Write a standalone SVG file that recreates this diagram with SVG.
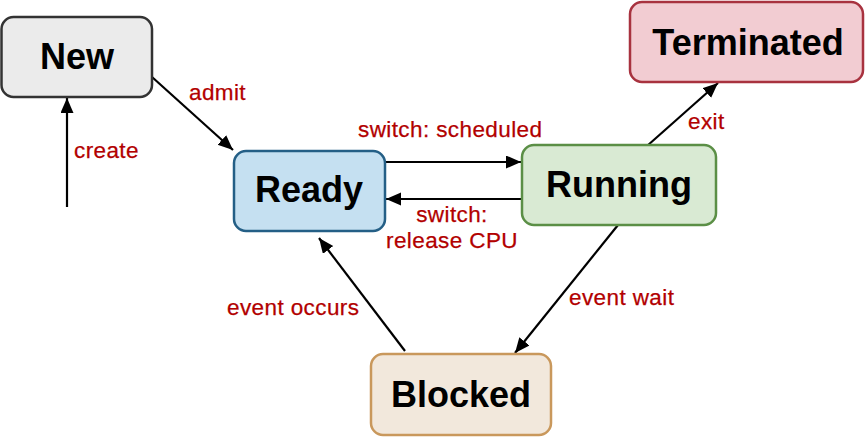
<svg xmlns="http://www.w3.org/2000/svg" width="865" height="437" viewBox="0 0 865 437">
<style>
.box{stroke-width:2.5}
.nt{font-family:"Liberation Sans",Arial,sans-serif;font-weight:bold;font-size:36px;fill:#000;text-anchor:middle}
.lb{font-family:"Liberation Sans",Arial,sans-serif;font-size:22.5px;letter-spacing:0.4px;fill:#b20000;stroke:#b20000;stroke-width:0.25}
.cn{stroke:#000;stroke-width:2.2;fill:none;marker-end:url(#ah)}
</style>
<defs>
<marker id="ah" markerUnits="userSpaceOnUse" markerWidth="17" markerHeight="14" refX="15" refY="6.5" orient="auto">
<path d="M0,0 L15,6.5 L0,13 Z" fill="#000"/>
</marker>
</defs>
<rect width="865" height="437" fill="#fff"/>
<g id="connectors">
<line class="cn" x1="67" y1="207" x2="67" y2="98"/>
<line class="cn" x1="152" y1="77" x2="233" y2="150"/>
<line class="cn" x1="385" y1="162" x2="521" y2="162"/>
<line class="cn" x1="522" y1="199" x2="386" y2="199"/>
<line class="cn" x1="647" y1="146" x2="718" y2="83"/>
<line class="cn" x1="618" y1="225" x2="515" y2="353"/>
<line class="cn" x1="405" y1="351" x2="319" y2="238"/>
</g>
<g id="labels">
<text class="lb" x="189" y="100">admit</text>
<text class="lb" x="74" y="158">create</text>
<text class="lb" x="358" y="137">switch: scheduled</text>
<text class="lb" x="452" y="222" text-anchor="middle">switch:</text>
<text class="lb" x="452" y="248" text-anchor="middle">release CPU</text>
<text class="lb" x="688" y="129">exit</text>
<text class="lb" x="569" y="305">event wait</text>
<text class="lb" x="227" y="315">event occurs</text>
</g>
<g id="new">
<rect class="box" x="1.5" y="17" width="150.5" height="80" rx="12" fill="#ebebeb" stroke="#333"/>
<text class="nt" x="77" y="69">New</text>
</g>
<g id="ready">
<rect class="box" x="234" y="151" width="151" height="80" rx="12" fill="#c5e0f1" stroke="#245f86"/>
<text class="nt" x="309" y="202">Ready</text>
</g>
<g id="running">
<rect class="box" x="522" y="145" width="194" height="80" rx="12" fill="#d9ead3" stroke="#5b8f46"/>
<text class="nt" x="619" y="197">Running</text>
</g>
<g id="terminated">
<rect class="box" x="630" y="2" width="233" height="80" rx="12" fill="#f2ccd2" stroke="#a8323f"/>
<text class="nt" x="748" y="55">Terminated</text>
</g>
<g id="blocked">
<rect class="box" x="371" y="354" width="180" height="81" rx="12" fill="#f2e8dc" stroke="#c9985c"/>
<text class="nt" x="461" y="407">Blocked</text>
</g>
</svg>
